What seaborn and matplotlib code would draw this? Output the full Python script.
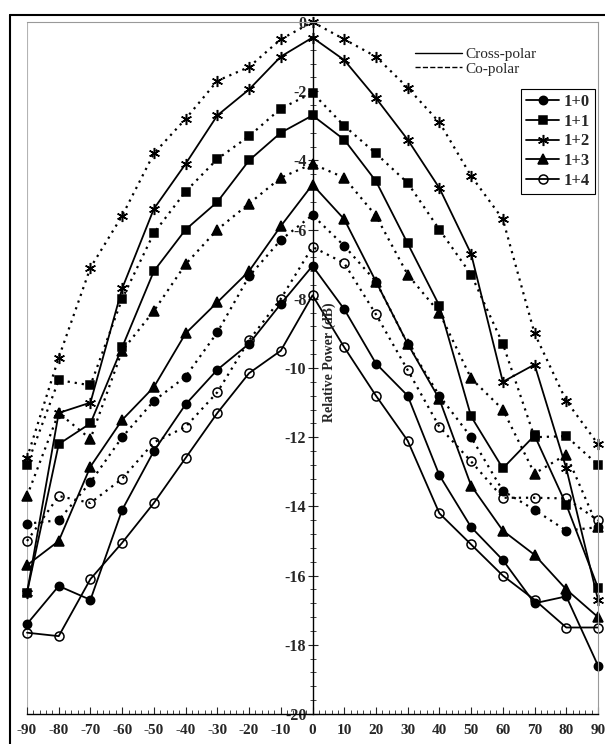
import matplotlib
matplotlib.use("Agg")
import matplotlib.pyplot as plt
from matplotlib.lines import Line2D
from matplotlib.ticker import MultipleLocator
import pandas as pd
import seaborn as sns

# angle (deg)
angles = [-90, -80, -70, -60, -50, -40, -30, -20, -10, 0,
          10, 20, 30, 40, 50, 60, 70, 80, 90]
modes = ["1+0", "1+1", "1+2", "1+3", "1+4"]

# relative power (dB)
cross_10 = [-17.4, -16.3, -16.7, -14.1, -12.4, -11.05, -10.05, -9.3, -8.15, -7.05,
            -8.3, -9.87, -10.8, -13.1, -14.6, -15.55, -16.8, -16.6, -18.6]
co_10 = [-14.5, -14.4, -13.3, -12.0, -10.95, -10.25, -8.97, -7.35, -6.3, -5.58,
         -6.47, -7.5, -9.3, -10.8, -12.0, -13.55, -14.1, -14.7, -14.6]
cross_11 = [-16.5, -12.2, -11.6, -9.4, -7.2, -6.0, -5.2, -4.0, -3.2, -2.7,
            -3.4, -4.6, -6.4, -8.2, -11.4, -12.9, -11.95, -13.95, -16.35]
co_11 = [-12.8, -10.35, -10.5, -8.0, -6.1, -4.9, -3.96, -3.3, -2.5, -2.05,
         -3.0, -3.8, -4.65, -6.0, -7.3, -9.3, -12.0, -11.97, -12.8]
cross_12 = [-16.5, -11.3, -11.0, -7.7, -5.4, -4.1, -2.7, -1.95, -1.0, -0.45,
            -1.1, -2.2, -3.4, -4.8, -6.7, -10.4, -9.9, -12.9, -16.7]
co_12 = [-12.6, -9.7, -7.1, -5.6, -3.8, -2.8, -1.7, -1.3, -0.5, 0.0,
         -0.5, -1.0, -1.9, -2.9, -4.45, -5.7, -9.0, -10.95, -12.2]
cross_13 = [-15.7, -15.0, -12.85, -11.5, -10.55, -9.0, -8.1, -7.2, -5.9, -4.7,
            -5.7, -7.5, -9.3, -10.9, -13.4, -14.7, -15.4, -16.4, -17.2]
co_13 = [-13.7, -11.3, -12.05, -9.5, -8.35, -7.0, -6.0, -5.25, -4.5, -4.1,
         -4.5, -5.6, -7.3, -8.4, -10.3, -11.2, -13.05, -12.5, -14.6]
cross_14 = [-17.65, -17.75, -16.1, -15.05, -13.9, -12.6, -11.3, -10.15, -9.5, -7.9,
            -9.4, -10.8, -12.1, -14.2, -15.1, -16.0, -16.7, -17.5, -17.5]
co_14 = [-15.0, -13.7, -13.9, -13.2, -12.15, -11.7, -10.7, -9.2, -8.0, -6.5,
         -6.97, -8.45, -10.06, -11.7, -12.7, -13.75, -13.75, -13.77, -14.4]

cross_all = [cross_10, cross_11, cross_12, cross_13, cross_14]
co_all = [co_10, co_11, co_12, co_13, co_14]

x_ticks = [-90, -80, -70, -60, -50, -40, -30, -20, -10, 0, 10, 20, 30, 40, 50, 60, 70, 80, 90]
y_ticks = [0, -2, -4, -6, -8, -10, -12, -14, -16, -18, -20]

sns.set_style("ticks")
plt.rcParams["font.family"] = ["Liberation Serif", "DejaVu Serif"]
plt.rcParams["axes.unicode_minus"] = False

rows = []
for mode, cross, co in zip(modes, cross_all, co_all):
    for a, c, p in zip(angles, cross, co):
        rows.append({"Angle": a, "Power": c, "Mode": mode, "Pol": "Cross-polar"})
        rows.append({"Angle": a, "Power": p, "Mode": mode, "Pol": "Co-polar"})
df = pd.DataFrame(rows)

marker_kw = {
    "1+0": dict(marker="o", mfc="black", ms=6),
    "1+1": dict(marker="s", mfc="black", ms=6),
    "1+2": dict(marker=(6, 2, 0), mfc="black", ms=8),
    "1+3": dict(marker="^", mfc="black", ms=6.5),
    "1+4": dict(marker="o", mfc="none", ms=6.5),
}
line_kw = {"Cross-polar": dict(linestyle="-", lw=1.3),
           "Co-polar": dict(linestyle=(0, (1, 2.2)), lw=1.6)}

fig = plt.figure(figsize=(6.05, 7.44), dpi=100)
ax = fig.add_axes([27 / 605, 30 / 744, 571 / 605, 692 / 744])

for mode in modes:
    for pol in ["Cross-polar", "Co-polar"]:
        sub = df[(df["Mode"] == mode) & (df["Pol"] == pol)]
        sns.lineplot(data=sub, x="Angle", y="Power", ax=ax, color="black",
                     markeredgecolor="black", mew=1.1, clip_on=False,
                     **marker_kw[mode], **line_kw[pol])

ax.set_xlim(-90, 90)
ax.set_ylim(-20, 0)
ax.set_xlabel("")
ax.set_ylabel("")

ax.spines["left"].set_position(("data", 0))
ax.spines["left"].set_linewidth(1.0)
ax.spines["left"].set_color("black")
ax.spines["bottom"].set_linewidth(1.0)
ax.spines["bottom"].set_color("black")
for s in ["top", "right"]:
    ax.spines[s].set_color("0.6")
    ax.spines[s].set_linewidth(0.8)
ax.axvline(-90, color="0.7", lw=0.8, zorder=0)

ax.set_xticks(x_ticks)
ax.set_xticklabels([str(v) for v in x_ticks], fontweight="bold", fontsize=11)
ax.set_yticks(y_ticks)
ax.set_yticklabels([str(v) for v in y_ticks], fontweight="bold", fontsize=11.5)
ax.xaxis.set_minor_locator(MultipleLocator(2))
ax.yaxis.set_minor_locator(MultipleLocator(0.4))
ax.tick_params(axis="x", which="major", direction="in", length=5, width=0.8, pad=7)
ax.tick_params(axis="x", which="minor", direction="in", length=3, width=0.6)
ax.tick_params(axis="y", which="major", direction="inout", length=7, width=0.8, pad=1)
ax.tick_params(axis="y", which="minor", direction="inout", length=4, width=0.6)

ax.text(5.4, -9.83, "Relative Power (dB)", rotation=90, ha="center", va="center",
        fontsize=10, fontweight="bold")

# mode legend
mode_handles = [Line2D([0], [0], color="black", lw=1.3, markeredgecolor="black",
                       mew=1.1, **marker_kw[m]) for m in modes]
leg1 = ax.legend(mode_handles, modes, loc="upper left", bbox_to_anchor=(0.865, 0.903),
                 borderaxespad=0, frameon=True, fancybox=False, edgecolor="black",
                 framealpha=1, handlelength=2.0, handletextpad=0.25, borderpad=0.3,
                 labelspacing=0.22, prop={"weight": "bold", "size": 12})
leg1.get_frame().set_linewidth(0.8)
ax.add_artist(leg1)

# polarisation legend
pol_handles = [Line2D([0], [0], color="black", lw=1.0, linestyle="-"),
               Line2D([0], [0], color="black", lw=1.0, linestyle="--")]
ax.legend(pol_handles, ["Cross-polar", "Co-polar"], loc="upper left",
          bbox_to_anchor=(0.668, 0.972), borderaxespad=0, frameon=False,
          handlelength=3.1, handletextpad=0.2, labelspacing=0.05, prop={"size": 11})

# page border of the scan
fig.add_artist(Line2D([10 / 605, 10 / 605], [0, 1 - 15 / 744], transform=fig.transFigure,
                      color="black", lw=1.5))
fig.add_artist(Line2D([10 / 605, 1], [1 - 15 / 744, 1 - 15 / 744], transform=fig.transFigure,
                      color="black", lw=1.5))

fig.savefig("out.png", dpi=100)
